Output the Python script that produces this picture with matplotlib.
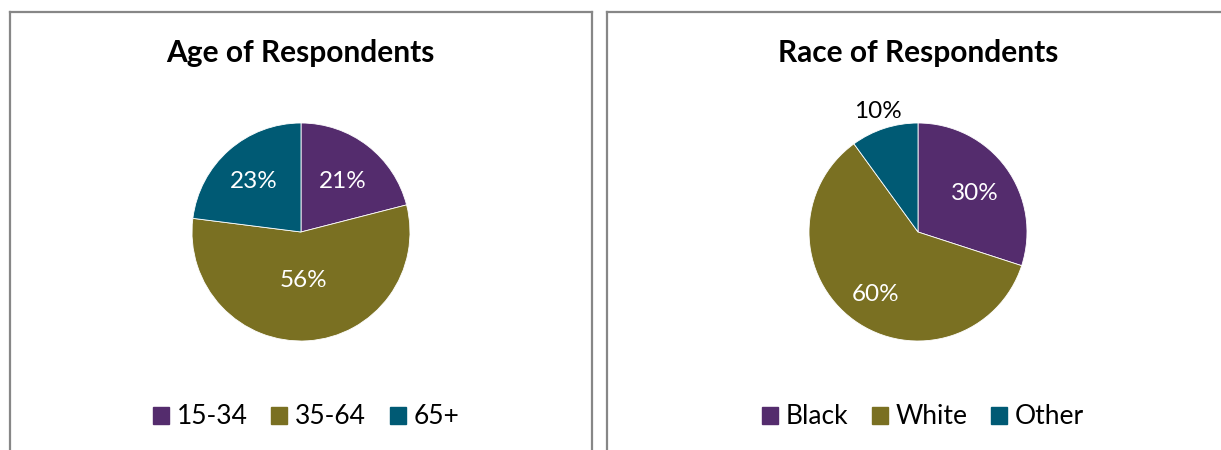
import matplotlib
matplotlib.use("Agg")
import matplotlib.pyplot as plt
from matplotlib.patches import Patch
from matplotlib.lines import Line2D
import matplotlib.transforms as mtransforms
import numpy as np

W, H = 1221, 450
DPI = 100

# ---- data ----
age_labels = ["15-34", "35-64", "65+"]
age_values = [21, 56, 23]
race_labels = ["Black", "White", "Other"]
race_values = [30, 60, 10]
age_title = "Age of Respondents"
race_title = "Race of Respondents"

colors = ["#542C6D", "#7A7022", "#005A74"]
FONT = ["Lato", "DejaVu Sans"]
plt.rcParams["font.family"] = FONT

fig = plt.figure(figsize=(W / DPI, H / DPI), dpi=DPI)
fig.patch.set_facecolor("white")

def px_axes(cx, cy, r):
    return fig.add_axes([(cx - r) / W, 1 - (cy + r) / H, 2 * r / W, 2 * r / H])

def panel(x0, x1, top, col="#878787"):
    kw = dict(color=col, lw=1.6, transform=fig.transFigure, clip_on=False)
    ys = [1 - top / H, -0.05]
    fig.add_artist(Line2D([x0 / W, x0 / W], ys, **kw))
    if x1 is not None:
        fig.add_artist(Line2D([x1 / W, x1 / W], ys, **kw))
        fig.add_artist(Line2D([x0 / W, x1 / W], [1 - top / H] * 2, **kw))
    else:
        fig.add_artist(Line2D([x0 / W, 1.05], [1 - top / H] * 2, **kw))

panel(10, 592, 12)
panel(607, None, 12)

def draw_pie(cx, cy, r, values, labels, title, tx, dists, txtcolors, legx):
    ax = px_axes(cx, cy, r)
    wedges, _ = ax.pie(values, colors=colors, startangle=90, counterclock=False,
                       wedgeprops=dict(edgecolor="white", linewidth=0.6))
    ax.set_xlim(-1, 1)
    ax.set_ylim(-1, 1)
    ax.set_aspect("equal")
    ax.axis("off")
    shift = mtransforms.ScaledTranslation(0, -3 / DPI, fig.dpi_scale_trans)
    for w, v, d, c in zip(wedges, values, dists, txtcolors):
        ang = np.deg2rad((w.theta1 + w.theta2) / 2)
        ax.text(d * np.cos(ang), d * np.sin(ang), f"{v}%", ha="center", va="center",
                fontsize=17.5, color=c, clip_on=False,
                transform=ax.transData + shift)
    fig.text(tx / W, 1 - 53 / H, title, ha="center", va="center",
             fontsize=21.5, fontweight="bold", color="black")
    handles = [Patch(facecolor=c, edgecolor=c) for c in colors]
    fig.legend(handles, labels, loc="center", bbox_to_anchor=(legx / W, 1 - 417 / H),
               ncol=3, frameon=False, fontsize=19, handlelength=0.6, handleheight=0.6,
               handletextpad=0.3, columnspacing=0.9, borderaxespad=0)

draw_pie(301, 232, 109, age_values, age_labels, age_title, 300,
         [0.62, 0.42, 0.65], ["white", "white", "white"], 306)
draw_pie(918, 232, 109, race_values, race_labels, race_title, 918,
         [0.64, 0.67, 1.19], ["white", "white", "black"], 923)

fig.savefig("out.png", dpi=DPI, facecolor="white")
